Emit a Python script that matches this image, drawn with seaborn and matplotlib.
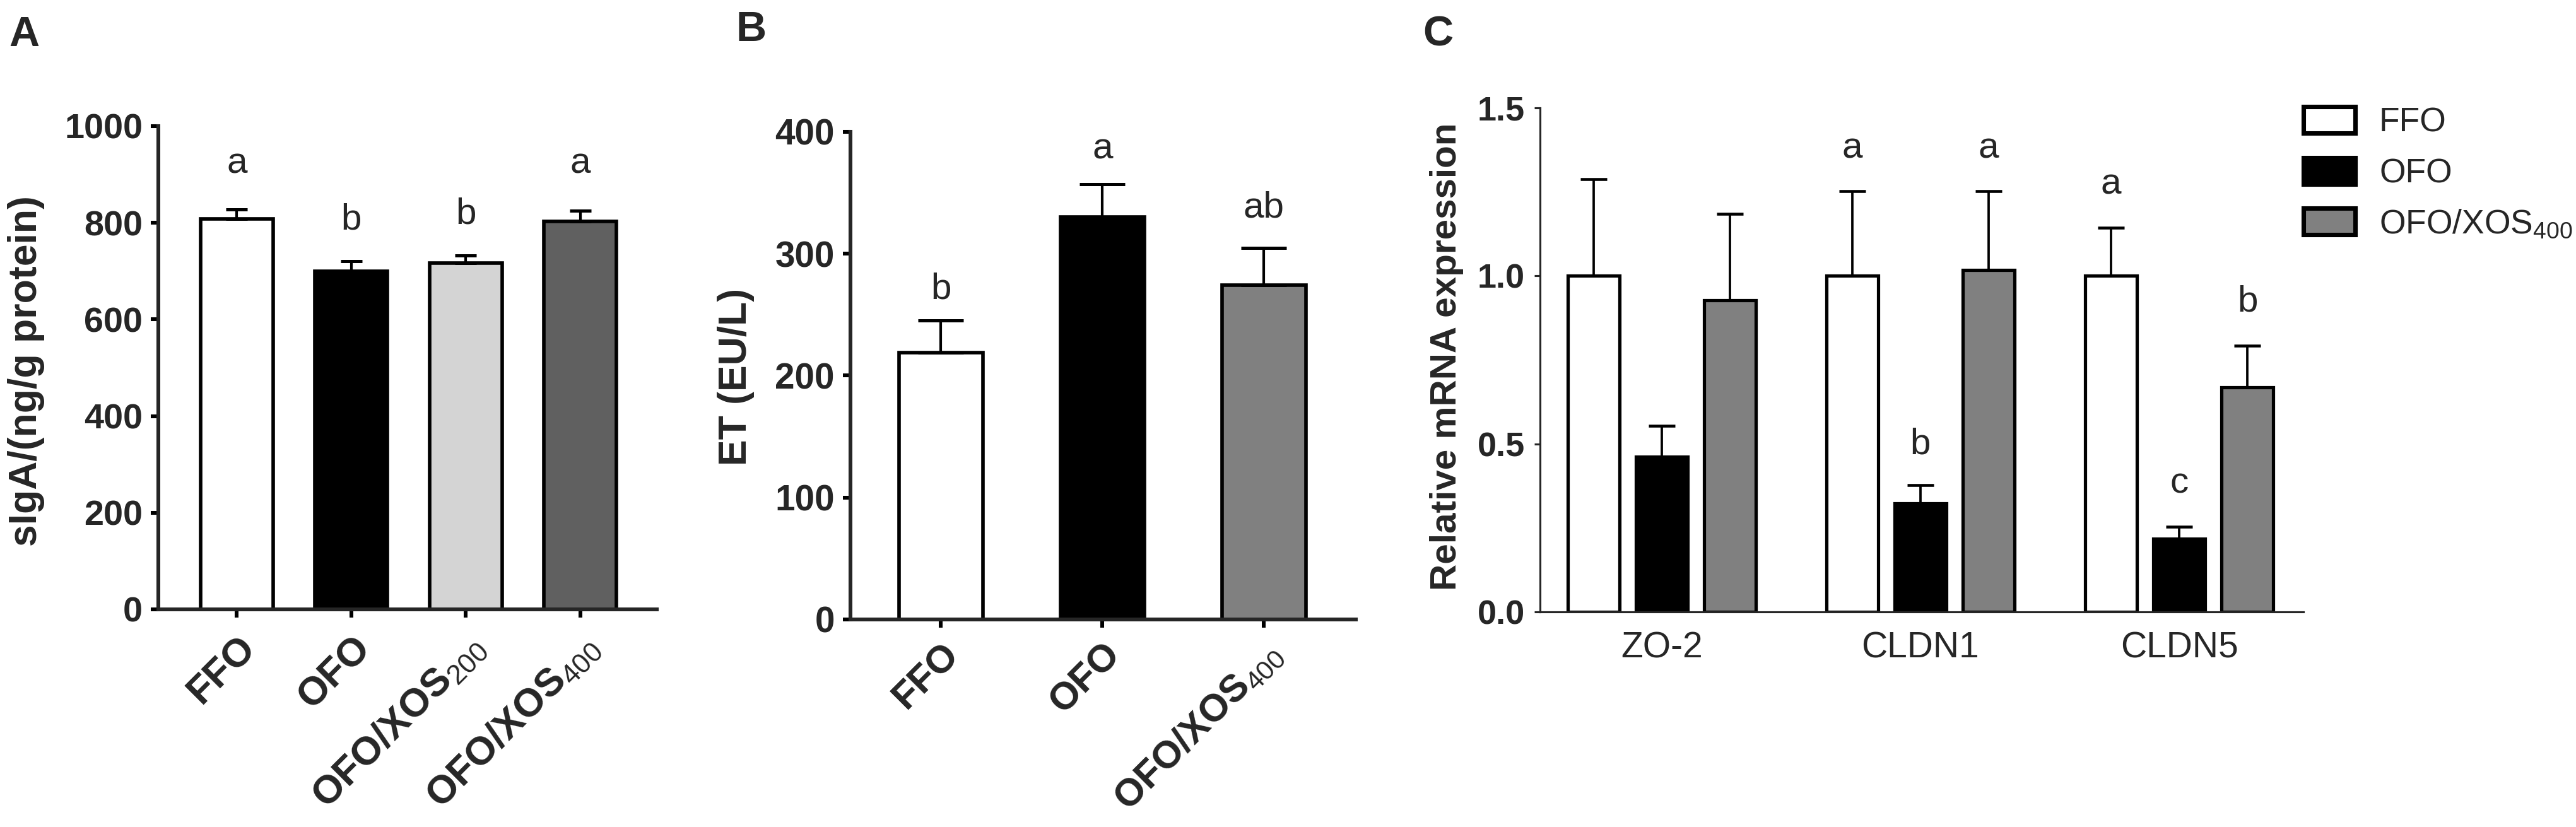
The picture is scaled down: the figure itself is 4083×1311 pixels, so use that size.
import seaborn as sns
import matplotlib.pyplot as plt
from matplotlib.patches import Patch
import numpy as np
import pandas as pd

# panel A - sIgA
groups_a = ['FFO', 'OFO', 'OFO/XOS200', 'OFO/XOS400']
ticklabels_a = ['FFO', 'OFO', r'OFO/XOS$_{\mathrm{200}}$', r'OFO/XOS$_{\mathrm{400}}$']
siga_mean = [808, 700, 716, 803]
siga_sem = [20, 20, 16, 22]
siga_letters = ['a', 'b', 'b', 'a']
siga_letter_y = [902, 787, 798, 902]
colors_a = ['#ffffff', '#000000', '#d4d4d4', '#606060']

# panel B - ET
groups_b = ['FFO', 'OFO', 'OFO/XOS400']
ticklabels_b = ['FFO', 'OFO', r'OFO/XOS$_{\mathrm{400}}$']
et_mean = [219, 330, 274]
et_sem = [26, 27, 31]
et_letters = ['b', 'a', 'ab']
et_letter_y = [263, 378, 330]
colors_b = ['#ffffff', '#000000', '#808080']

# panel C - tight junction genes
genes = ['ZO-2', 'CLDN1', 'CLDN5']
groups_c = ['FFO', 'OFO', 'OFO/XOS400']
legend_c = ['FFO', 'OFO', r'OFO/XOS$_{\mathrm{400}}$']
ffo_expr = [1.0, 1.0, 1.0]
ofo_expr = [0.462, 0.322, 0.218]
xos_expr = [0.927, 1.018, 0.668]
ffo_sem = [0.288, 0.252, 0.143]
ofo_sem = [0.091, 0.055, 0.036]
xos_sem = [0.257, 0.235, 0.125]
ffo_letters = ['', 'a', 'a']
ofo_letters = ['', 'b', 'c']
xos_letters = ['', 'a', 'b']
ffo_letter_y = [0, 1.351, 1.244]
ofo_letter_y = [0, 0.471, 0.353]
xos_letter_y = [0, 1.351, 0.895]
colors_c = ['#ffffff', '#000000', '#808080']

sns.set_style('ticks')
plt.rcParams['font.family'] = ['Liberation Sans', 'DejaVu Sans']
plt.rcParams['mathtext.fontset'] = 'custom'
plt.rcParams['mathtext.rm'] = 'Liberation Sans'
plt.rcParams['mathtext.it'] = 'Liberation Sans:italic'
plt.rcParams['mathtext.bf'] = 'Liberation Sans:bold'

fig = plt.figure(figsize=(4083 / 300, 1311 / 300), dpi=300)
axA = fig.add_axes([0.0615, 0.2632, 0.1935, 0.5843])
axB = fig.add_axes([0.3301, 0.2510, 0.1963, 0.5896])
axC = fig.add_axes([0.5978, 0.2601, 0.2964, 0.6095])


def simple_panel(ax, groups, labels, means, sems, colors, letters, letter_y,
                 width, capsize, ylim, yticks, ylabel, xlim, ytick_fs, xtick_fs, xpad):
    sns.barplot(x=groups, y=means, hue=groups, palette=colors, legend=False,
                width=width, edgecolor='black', linewidth=1.35, errorbar=None,
                saturation=1, ax=ax)
    for bar, m, s, t, ty in zip(ax.patches, means, sems, letters, letter_y):
        cx = bar.get_x() + bar.get_width() / 2
        ax.errorbar(cx, m, yerr=[[0], [s]], fmt='none', ecolor='black',
                    elinewidth=1.0, capsize=capsize, capthick=1.2, zorder=1)
        ax.text(cx, ty, t, ha='center', va='baseline', fontsize=14)
    sns.despine(ax=ax)
    for sp in ['left', 'bottom']:
        ax.spines[sp].set_linewidth(1.45)
    ax.set_ylim(*ylim)
    ax.set_xlim(*xlim)
    ax.set_yticks(yticks)
    ax.set_yticklabels([str(v) for v in yticks], fontsize=ytick_fs, fontweight='bold')
    ax.set_xticks(range(len(groups)))
    ax.set_xticklabels(labels, rotation=45, ha='right', rotation_mode='anchor',
                       fontsize=xtick_fs, fontweight='bold')
    ax.tick_params(axis='both', length=3, width=1.45, color='black')
    ax.tick_params(axis='y', pad=3)
    ax.tick_params(axis='x', pad=xpad)
    ax.set_xlabel('')
    ax.set_ylabel(ylabel, fontsize=15, fontweight='bold')


simple_panel(axA, groups_a, ticklabels_a, siga_mean, siga_sem, colors_a,
             siga_letters, siga_letter_y, 0.635, 4, (0, 1000),
             [0, 200, 400, 600, 800, 1000], 'sIgA/(ng/g protein)', (-0.685, 3.67),
             13.4, 15, 4.5)
axA.yaxis.set_label_coords(-0.228, 0.493)

simple_panel(axB, groups_b, ticklabels_b, et_mean, et_sem, colors_b,
             et_letters, et_letter_y, 0.52, 8.7, (0, 400),
             [0, 100, 200, 300, 400], 'ET (EU/L)', (-0.56, 2.57),
             13.6, 14.6, 3.5)
axB.yaxis.set_label_coords(-0.19, 0.498)

# panel C
df_c = pd.DataFrame({
    'gene': genes * 3,
    'group': [g for g in groups_c for _ in genes],
    'expr': ffo_expr + ofo_expr + xos_expr,
})
sns.barplot(data=df_c, x='gene', y='expr', hue='group', hue_order=groups_c,
            palette=colors_c, width=0.79, gap=0.24, edgecolor='black',
            linewidth=1.25, errorbar=None, saturation=1, legend=False, ax=axC)
sems_c = [ffo_sem, ofo_sem, xos_sem]
means_c = [ffo_expr, ofo_expr, xos_expr]
letters_c = [ffo_letters, ofo_letters, xos_letters]
letter_y_c = [ffo_letter_y, ofo_letter_y, xos_letter_y]
for cont, ms, ss, ls, lys in zip(axC.containers, means_c, sems_c, letters_c, letter_y_c):
    for bar, m, s, t, ty in zip(cont, ms, ss, ls, lys):
        cx = bar.get_x() + bar.get_width() / 2
        axC.errorbar(cx, m, yerr=[[0], [s]], fmt='none', ecolor='black',
                     elinewidth=0.9, capsize=5, capthick=1.1, zorder=1)
        if t:
            axC.text(cx, ty, t, ha='center', va='baseline', fontsize=14)
sns.despine(ax=axC)
for sp in ['left', 'bottom']:
    axC.spines[sp].set_linewidth(0.75)
axC.set_ylim(0, 1.5)
axC.set_xlim(-0.47, 2.48)
axC.set_yticks([0, 0.5, 1.0, 1.5])
axC.set_yticklabels(['0.0', '0.5', '1.0', '1.5'], fontsize=13, fontweight='bold')
axC.set_xticks(range(len(genes)))
axC.set_xticklabels(genes, fontsize=13.7)
axC.tick_params(axis='y', length=2.2, width=0.75, pad=3.6)
axC.tick_params(axis='x', length=0, pad=7.4)
axC.set_xlabel('')
axC.set_ylabel('Relative mRNA expression', fontsize=14, fontweight='bold')
axC.yaxis.set_label_coords(-0.100, 0.507)

handles = [Patch(facecolor=c, edgecolor='black', linewidth=1.7, label=l)
           for c, l in zip(colors_c, legend_c)]
fig.legend(handles=handles, loc='upper left', bbox_to_anchor=(0.8942, 0.871),
           frameon=False, fontsize=12.8, handlelength=1.54, handleheight=0.84,
           labelspacing=0.56, handletextpad=0.71, borderpad=0, borderaxespad=0)

for x, y, t in [(0.0034, 0.981, 'A'), (0.2858, 0.987, 'B'), (0.5523, 0.981, 'C')]:
    fig.text(x, y, t, fontsize=16, fontweight='bold', va='top', ha='left')

fig.savefig('out.png', dpi=300)
